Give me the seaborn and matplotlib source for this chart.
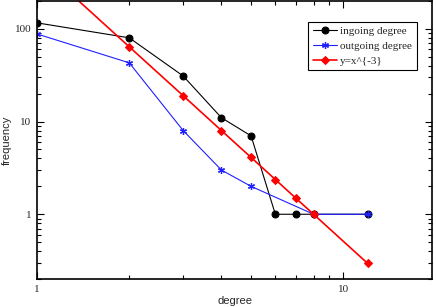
import numpy as np
import pandas as pd
import matplotlib
matplotlib.use("Agg")
import matplotlib.pyplot as plt
import seaborn as sns
from matplotlib.ticker import LogLocator, NullFormatter, FixedFormatter, FixedLocator

# values
in_deg = [1, 2, 3, 4, 5, 6, 7, 8, 12]
in_freq = [116, 80, 31, 11, 7, 1, 1, 1, 1]

out_deg = [1, 2, 3, 4, 5, 8, 12]
out_freq = [88, 43, 8, 3, 2, 1, 1]

pl_deg = [1, 2, 3, 4, 5, 6, 7, 8, 12]
pl_freq = [512, 64, 19, 8, 4.1, 2.37, 1.49, 1, 0.296]

sns.set_style("ticks")
plt.rcParams['font.family'] = ['Liberation Sans', 'DejaVu Sans']

fig = plt.figure(figsize=(4.36, 3.07), dpi=100)
ax = fig.add_axes([0.085, 0.091, 0.906, 0.906])

sns.lineplot(x=in_deg, y=in_freq, ax=ax, color='black', lw=0.8, marker='o',
             markersize=5, markeredgecolor='black', label='ingoing degree', sort=False)
sns.lineplot(x=out_deg, y=out_freq, ax=ax, color='#2020ff', lw=0.8, marker=(6, 2, 0),
             markersize=5, markeredgewidth=0.9, markeredgecolor='#2020ff',
             label='outgoing degree', sort=False)
sns.lineplot(x=pl_deg, y=pl_freq, ax=ax, color='red', lw=1.2, marker='D',
             markersize=4.3, markeredgecolor='red', label='y=x^{-3}', sort=False)

ax.set_xscale('log')
ax.set_yscale('log')
ax.set_xlim(1, 19.5)
ax.set_ylim(0.2, 200)

ax.xaxis.set_major_locator(FixedLocator([1, 10]))
ax.xaxis.set_major_formatter(FixedFormatter(['1', '10']))
ax.xaxis.set_minor_locator(LogLocator(base=10, subs=np.arange(2, 10)))
ax.xaxis.set_minor_formatter(NullFormatter())
ax.yaxis.set_major_locator(FixedLocator([1, 10, 100]))
ax.yaxis.set_major_formatter(FixedFormatter(['1', '10', '100']))
ax.yaxis.set_minor_locator(LogLocator(base=10, subs=np.arange(2, 10)))
ax.yaxis.set_minor_formatter(NullFormatter())

ax.tick_params(which='both', direction='in', top=True, right=True, width=0.8, color='black')
ax.tick_params(which='major', length=5, labelsize=8, pad=4)
ax.tick_params(which='minor', length=3)
for lab in ax.get_xticklabels() + ax.get_yticklabels():
    lab.set_family(['Liberation Serif', 'DejaVu Serif'])

for s in ax.spines.values():
    s.set_linewidth(1.2)
    s.set_color('black')

ax.set_xlabel('degree', fontsize=8, labelpad=2)
ax.set_ylabel('frequency', fontsize=8, labelpad=2)

leg = ax.legend(loc='upper right', bbox_to_anchor=(0.975, 0.945), fancybox=False,
                framealpha=1, edgecolor='black', borderpad=0.4, labelspacing=0.45,
                handlelength=2.2, handletextpad=0.3,
                prop={'family': ['Liberation Serif', 'DejaVu Serif'], 'size': 8})
leg.get_frame().set_linewidth(0.8)

fig.savefig('out.png', dpi=100)
